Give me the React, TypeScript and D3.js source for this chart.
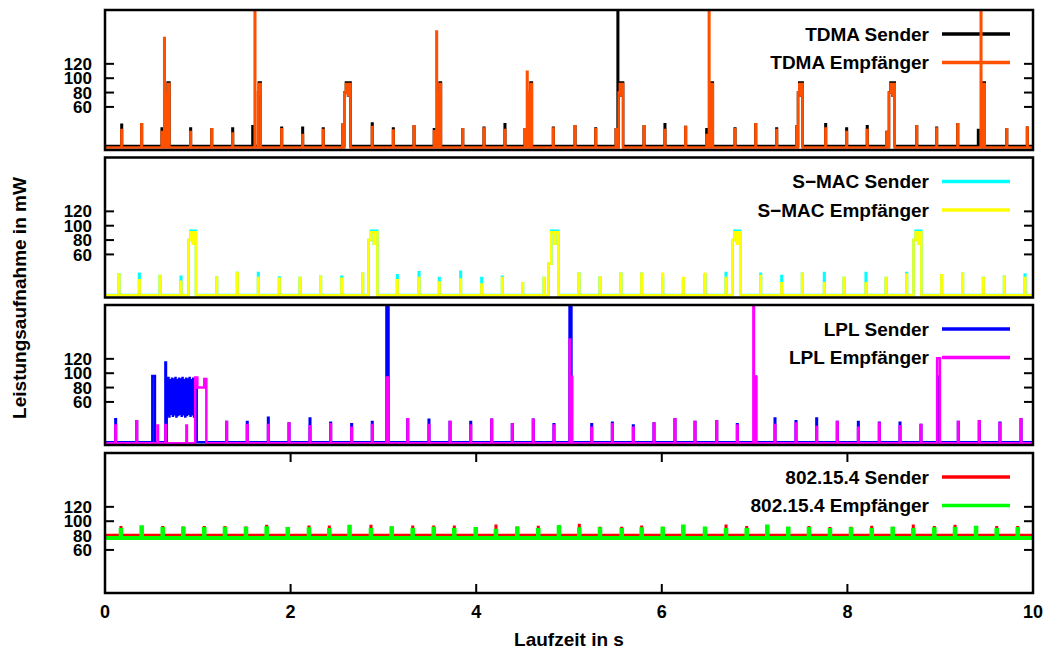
import React from 'react';
import * as d3 from 'd3';

type Pt = [number, number];

// ---- TDMA ----
const tdmaTimes = [0.18, 0.395, 0.614, 0.923, 1.15, 1.376, 1.592, 1.904, 2.13, 2.352, 2.561, 2.88, 3.107, 3.33, 3.548, 3.855, 4.084, 4.31, 4.526, 4.831, 5.065, 5.288, 5.507, 5.808, 6.034, 6.257, 6.484, 6.789, 7.012, 7.238, 7.454, 7.766, 7.992, 8.214, 8.423, 8.747, 8.962, 9.189, 9.411, 9.717, 9.939];
const tdmaSender = [35, 36, 30, 30, 29, 30, 33, 31, 31, 30, 35, 37, 30, 33, 29, 29, 31, 36, 29, 31, 33, 30, 29, 33, 36, 32, 29, 30, 36, 30, 33, 36, 30, 33, 25, 33, 31, 36, 28, 29, 31];
const tdmaReceiver = [28, 36, 25, 25, 29, 23, null, 29, 21, 28, 35, 32, 27, 33, 26, 29, 30, 28, 29, 30, 33, 29, 29, 33, 28, 32, 21, 29, 36, 28, 33, 30, 25, 28, 25, 33, 30, 36, null, 29, 31];
const tdmaBlockTimes = [0.668, 1.65, 2.578, 3.6, 4.58, 5.535, 6.53, 7.468, 8.448, 9.46];
const tdmaBlockLen = [0.026, 0.028, 0.068, 0.02, 0.02, 0.048, 0.02, 0.05, 0.062, 0.02];
const tdmaSenderPeaks: Pt[] = [[5.527, 240]];
const tdmaReceiverPeaks: Pt[] = [[0.641, 156], [1.616, 240], [3.574, 165], [4.55, 109], [6.51, 240], [9.44, 240]];

// ---- S-MAC ----
const smacTimes = [0.151, 0.37, 0.593, 0.819, 1.204, 1.426, 1.652, 1.878, 2.101, 2.324, 2.551, 2.777, 3.15, 3.384, 3.602, 3.833, 4.059, 4.281, 4.501, 4.731, 5.108, 5.334, 5.56, 5.783, 6.01, 6.232, 6.466, 6.692, 7.066, 7.292, 7.514, 7.751, 7.963, 8.2, 8.416, 8.639, 9.016, 9.242, 9.465, 9.691, 9.914];
const smacSender = [32, 33, 30, 29, 28, 34, 34, 28, 27, 29, 29, 33, 31, 35, 27, 36, 27, 29, 20, 27, 33, 28, 33, 33, 27, 24, 31, 34, 33, 30, 33, 34, 27, 34, 27, 34, 31, 33, 27, 29, 32];
const smacReceiver = [32, 24, 30, 22, 28, 34, 27, 26, 27, 29, 26, 33, 24, 27, 21, 25, 18, 27, 20, 27, 33, 28, 33, 33, 33, 27, 33, 27, 30, 20, 33, 20, 27, 20, 27, 32, 31, 33, 27, 29, 27];
const smacBlockTimes = [0.9, 2.84, 4.78, 6.76, 8.712];
const smacBlockLen = [0.08, 0.095, 0.105, 0.085, 0.085];
const smacBlockStep = [80, 80, 47, 80, 80];

// ---- LPL ----
const lplTimes = [0.115, 0.342, 0.568, 0.654, 0.88, 1.311, 1.533, 1.76, 1.983, 2.209, 2.432, 2.658, 2.88, 3.262, 3.491, 3.718, 3.941, 4.167, 4.389, 4.615, 4.838, 5.245, 5.467, 5.693, 5.916, 6.142, 6.358, 6.592, 6.814, 7.22, 7.446, 7.669, 7.891, 8.118, 8.344, 8.567, 8.793, 9.195, 9.421, 9.644, 9.871];
const lplSender = [36, 33, null, 115, null, 32, 32, 38, 30, 37, 31, 29, 32, 36, 35, 32, 32, 35, 29, 35, 29, 29, 31, 27, 30, 36, 32, 33, 29, 37, 33, 37, 32, 32, 31, 31, 28, 32, 33, 31, 36];
const lplReceiver = [27, 33, 27, 28, 27, 32, 28, 28, 30, 26, 29, 24, 28, 36, 28, 32, 27, 35, 29, 35, 27, 24, 29, 24, 30, 36, 32, 33, 27, 28, 30, 25, 32, 24, 30, 26, 28, 32, 33, 30, 36];
// [start, length, level]
const lplSenderBursts = [[0.51, 0.028, 96], [3.033, 0.022, 240], [5.006, 0.02, 240], [6.995, 0.02, 95], [8.97, 0.022, 95]];
const lplReceiverBursts = [[3.033, 0.022, 94], [5.017, 0.018, 95], [6.998, 0.02, 95], [8.967, 0.03, 121]];
const lplReceiverPeaks: Pt[] = [[5.01, 147], [6.99, 240]];
const lplSenderDense: Pt[] = [[0.665, 93], [0.675, 40], [0.684, 95], [0.694, 38], [0.703, 92], [0.713, 42], [0.722, 94], [0.732, 39], [0.741, 93], [0.751, 41], [0.76, 95], [0.77, 38], [0.779, 92], [0.789, 40], [0.798, 94], [0.808, 42], [0.817, 93], [0.827, 39], [0.836, 95], [0.846, 41], [0.855, 92], [0.865, 38], [0.874, 94], [0.884, 40], [0.893, 93], [0.903, 42], [0.912, 95], [0.922, 39], [0.931, 92], [0.941, 41], [0.95, 94], [0.96, 38], [0.969, 93], [0.979, 40], [0.988, 92]];
const lplReceiverStart: Pt[] = [[0.972, 94], [0.995, 94], [0.995, 80], [1.07, 80], [1.07, 92], [1.092, 92]];

// ---- 802.15.4 ----
const zbTimes = [0.172, 0.395, 0.622, 0.844, 1.07, 1.293, 1.519, 1.742, 1.969, 2.198, 2.417, 2.635, 2.866, 3.089, 3.316, 3.542, 3.764, 3.995, 4.213, 4.443, 4.669, 4.892, 5.111, 5.334, 5.568, 5.783, 6.01, 6.232, 6.466, 6.692, 6.915, 7.137, 7.363, 7.586, 7.812, 8.039, 8.262, 8.488, 8.71, 8.937, 9.16, 9.386, 9.609, 9.835];
const zbSender = [91.5, 88, 91.5, 91, 91.5, 91.5, 91, 93.3, 90.1, 92.4, 92.4, 88, 93.3, 91, 92.4, 92.4, 92.4, 90.1, 93.7, 91, 92, 88, 94.7, 90.5, 90.5, 92.4, 90.5, 92, 88, 93.7, 91.5, 88, 90.5, 91.5, 90.1, 90.5, 92, 90.5, 93.7, 91.5, 93.3, 88, 91.5, 91.5];
const zbReceiver = [87.8, 91.5, 89.2, 90, 89.2, 89.6, 89.6, 90.1, 89.2, 88.7, 87.8, 92.4, 87.8, 90.1, 87.8, 89.6, 87.8, 89.2, 86.8, 90, 87.8, 92, 88.7, 88.7, 87.8, 88.7, 89.6, 92.5, 90, 87.8, 87.8, 92.5, 89.6, 89.2, 87.8, 88.7, 87.8, 89.6, 87.8, 88.7, 89.2, 91, 87.8, 89.2];

const yTicks = [60, 80, 100, 120];
const xTicks = [0, 2, 4, 6, 8, 10];

const W = 1048;
const H = 650;
const X0 = 105;
const X1 = 1033;
const PANEL_TOPS = [10, 157.5, 305, 453];
const PANEL_H = 140;
const Y_MAX = 195;
const PULSE_W = 0.003;
const FONT = "'Liberation Sans', Arial, Helvetica, sans-serif";

const pulses = (times: number[], values: (number | null)[]): Pt[][] =>
  times.flatMap((t, i) => (values[i] == null ? [] : [[[t - PULSE_W, values[i] as number], [t + PULSE_W, values[i] as number]] as Pt[]]));

const peaks = (list: Pt[]): Pt[][] => list.map(([t, v]) => [[t - PULSE_W, v], [t + PULSE_W, v]]);

// packet block: short step, full level, small notch, full level again
const blocks = (times: number[], lens: number[], level: number, steps: number[], notch: number): Pt[][] =>
  times.map((t, i) => {
    const d = lens[i];
    const s = steps[i];
    return [[t, s], [t + 0.27 * d, s], [t + 0.27 * d, level], [t + 0.6 * d, level], [t + 0.6 * d, notch],
      [t + 0.7 * d, notch], [t + 0.7 * d, level], [t + d, level]];
  });

const bursts = (list: number[][]): Pt[][] => list.map(([t, d, v]) => [[t, v], [t + d, v]]);

const trace = (base: number, events: Pt[][]): Pt[] => {
  const sorted = [...events].sort((a, b) => a[0][0] - b[0][0]);
  const pts: Pt[] = [[0, base]];
  sorted.forEach((ev) => {
    pts.push([ev[0][0], base], ...ev, [ev[ev.length - 1][0], base]);
  });
  pts.push([10, base]);
  return pts;
};

interface Series { label: string; color: string; width: number; points: Pt[] }

const panels: Series[][] = [
  [
    { label: 'TDMA Sender', color: '#000000', width: 2.5,
      points: trace(5.5, [...pulses(tdmaTimes, tdmaSender), ...peaks(tdmaSenderPeaks),
        ...blocks(tdmaBlockTimes, tdmaBlockLen, 94, tdmaBlockTimes.map(() => 80), 76)]) },
    { label: 'TDMA Empfänger', color: '#ff5000', width: 2.5,
      points: trace(3.5, [...pulses(tdmaTimes, tdmaReceiver), ...peaks(tdmaReceiverPeaks),
        ...blocks(tdmaBlockTimes, tdmaBlockLen, 92, tdmaBlockTimes.map(() => 80), 76)]) },
  ],
  [
    { label: 'S\u2212MAC Sender', color: '#00ffff', width: 2.5,
      points: trace(3.5, [...pulses(smacTimes, smacSender),
        ...blocks(smacBlockTimes, smacBlockLen, 93, smacBlockStep, 75)]) },
    { label: 'S\u2212MAC Empfänger', color: '#ffff00', width: 2.5,
      points: trace(3, [...pulses(smacTimes, smacReceiver),
        ...blocks(smacBlockTimes, smacBlockLen, 91, smacBlockStep, 75)]) },
  ],
  [
    { label: 'LPL Sender', color: '#0000ff', width: 2.5,
      points: trace(4, [...pulses(lplTimes, lplSender), ...bursts(lplSenderBursts), lplSenderDense]) },
    { label: 'LPL Empfänger', color: '#ff00ff', width: 2.5,
      points: trace(2.5, [...pulses(lplTimes, lplReceiver), ...bursts(lplReceiverBursts),
        ...peaks(lplReceiverPeaks), lplReceiverStart]) },
  ],
  [
    { label: '802.15.4 Sender', color: '#ff0000', width: 2.5,
      points: trace(80.8, pulses(zbTimes, zbSender)) },
    { label: '802.15.4 Empfänger', color: '#00ff00', width: 4,
      points: trace(76.5, pulses(zbTimes, zbReceiver)) },
  ],
];

const x = d3.scaleLinear().domain([0, 10]).range([X0, X1]);

const Panel = ({ idx, series }: { idx: number; series: Series[] }) => {
  const top = PANEL_TOPS[idx];
  const y = d3.scaleLinear().domain([0, Y_MAX]).range([top + PANEL_H, top]);
  const line = d3.line<Pt>().x((d) => x(d[0])).y((d) => y(d[1]));
  const isLast = idx === PANEL_TOPS.length - 1;
  const clipId = `clip-${idx}`;
  return (
    <g>
      <clipPath id={clipId}>
        <rect x={X0} y={top} width={X1 - X0} height={PANEL_H} />
      </clipPath>
      {/* y ticks, both sides */}
      {yTicks.map((v) => (
        <g key={v}>
          <line x1={X0} x2={X0 + 9} y1={y(v)} y2={y(v)} stroke="#000" strokeWidth={2} />
          <line x1={X1 - 9} x2={X1} y1={y(v)} y2={y(v)} stroke="#000" strokeWidth={2} />
          <text x={92} y={y(v)} dy="0.36em" textAnchor="end" fontSize={17}>{v}</text>
        </g>
      ))}
      {isLast && xTicks.map((v) => (
        <g key={v}>
          <line x1={x(v)} x2={x(v)} y1={top + PANEL_H} y2={top + PANEL_H - 9} stroke="#000" strokeWidth={2} />
          <line x1={x(v)} x2={x(v)} y1={top} y2={top + 9} stroke="#000" strokeWidth={2} />
          <text x={x(v)} y={top + PANEL_H + 25} textAnchor="middle" fontSize={18}>{v}</text>
        </g>
      ))}
      {/* legend */}
      {series.map((s, i) => (
        <g key={s.label}>
          <text x={929} y={top + 24 + i * 28.5} dy="0.36em" textAnchor="end" fontSize={19}>{s.label}</text>
          <line x1={942} x2={1010} y1={top + 24 + i * 28.5} y2={top + 24 + i * 28.5} stroke={s.color} strokeWidth={3.5} />
        </g>
      ))}
      <g clipPath={`url(#${clipId})`}>
        {series.map((s) => (
          <path key={s.label} d={line(s.points) ?? ''} fill="none" stroke={s.color} strokeWidth={s.width} strokeLinejoin="miter" />
        ))}
      </g>
      <rect x={X0} y={top} width={X1 - X0} height={PANEL_H} fill="none" stroke="#000" strokeWidth={2.5} />
    </g>
  );
};

export default function App() {
  return (
    <svg width={W} height={H} style={{ position: 'absolute', left: 0, top: 0, background: '#fff' }}
      fontFamily={FONT} fontWeight="bold">
      {panels.map((series, i) => (
        <Panel key={i} idx={i} series={series} />
      ))}
      <text x={569} y={646} textAnchor="middle" fontSize={19}>Laufzeit in s</text>
      <text transform="translate(26,298) rotate(-90)" textAnchor="middle" fontSize={19}>Leistungsaufnahme in mW</text>
    </svg>
  );
}
